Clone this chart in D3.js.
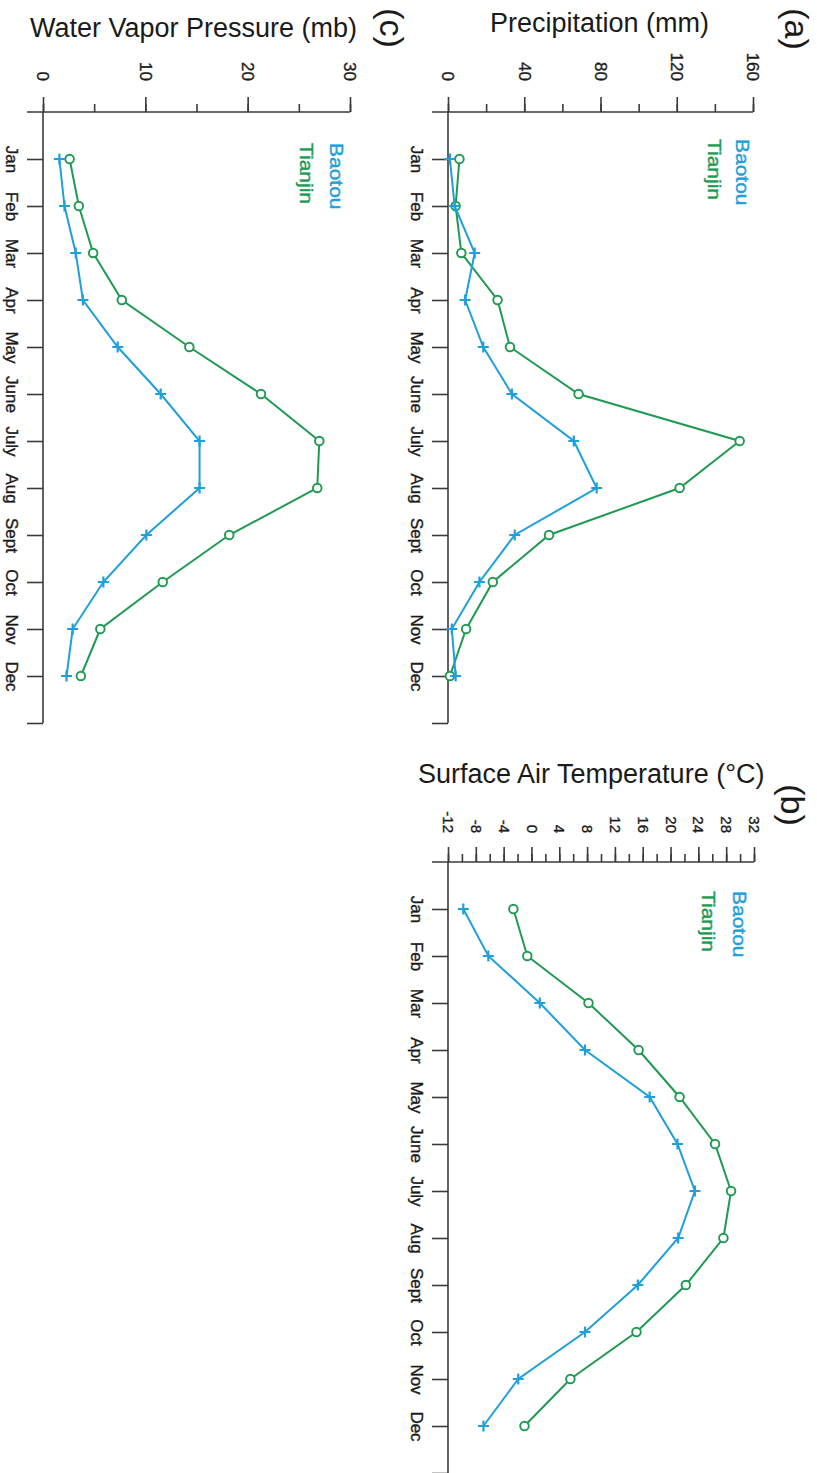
<!DOCTYPE html>
<html>
<head>
<meta charset="utf-8">
<script src="https://cdn.jsdelivr.net/npm/d3@7"></script>
<style>
  body { margin: 0; background: #fff; }
  svg { display: block; font-family: "Liberation Sans", Arial, sans-serif; }
</style>
</head>
<body>
<svg id="chart" width="817" height="1473"></svg>
<script>
// monthly climate data
var months = ["Jan", "Feb", "Mar", "Apr", "May", "June", "July", "Aug", "Sept", "Oct", "Nov", "Dec"];
var seriesNames = ["Baotou", "Tianjin"];

var precipBaotou = [1, 3.5, 14, 9, 18.5, 33.5, 66, 78, 35, 16.5, 2, 4];
var precipTianjin = [6, 4, 7, 26, 32.5, 68.5, 153, 121.5, 53, 23.5, 9.5, 1];

var tempBaotou = [-9.8, -6.2, 1.2, 7.7, 17, 21, 23.5, 21.1, 15.3, 7.7, -1.9, -6.9];
var tempTianjin = [-2.6, -0.6, 8.2, 15.4, 21.3, 26.4, 28.7, 27.6, 22.2, 15.1, 5.6, -1.0];

var vaporBaotou = [1.6, 2.1, 3.2, 3.9, 7.3, 11.5, 15.3, 15.3, 10.1, 5.9, 2.9, 2.3];
var vaporTianjin = [2.6, 3.5, 4.9, 7.7, 14.3, 21.3, 27.0, 26.8, 18.2, 11.7, 5.6, 3.7];

var blue = "#1f9fdb";
var green = "#1f9a52";
var axisCol = "#3a3a3a";
var textCol = "#1a1a1a";

// panel layout (the whole figure is turned 90 deg clockwise)
var panels = [
    {label: "(a)", title: "Precipitation (mm)", titleX: 490, titleY: 32, labelX: 795, labelY: 29,
     domain: [0, 160], range: [448, 753], axisY: 112, major: 40, minor: 20, tickFont: 17, tickGap: 31,
     legX: [742, 714], legY: 139, data: [precipBaotou, precipTianjin]},
    {label: "(c)", title: "Water Vapor Pressure (mb)", titleX: 30, titleY: 37, labelX: 390, labelY: 28,
     domain: [0, 30], range: [43, 350], axisY: 112, major: 10, minor: 5, tickFont: 17, tickGap: 31,
     legX: [336, 306], legY: 143, data: [vaporBaotou, vaporTianjin]},
    {label: "(b)", title: "Surface Air Temperature (\u00B0C)", titleX: 418, titleY: 783, labelX: 791, labelY: 805,
     domain: [-12, 32], range: [448, 754], axisY: 862, major: 4, minor: 2, tickFont: 15, tickGap: 29,
     legX: [739, 708], legY: 891, data: [tempBaotou, tempTianjin]}
];

var svg = d3.select("#chart");
var step = 47; // px between months

panels.forEach(function(p) {
    var g = svg.append("g");
    var x = d3.scaleLinear().domain(p.domain).range(p.range);
    var y = d3.scaleLinear().domain([0, 13]).range([p.axisY, p.axisY + 13 * step]);
    var x0 = p.range[0];

    // value axis (top) - minor then major ticks
    var minorTicks = d3.range(p.domain[0], p.domain[1] + 0.001, p.minor);
    var majorTicks = d3.range(p.domain[0], p.domain[1] + 0.001, p.major);

    var minorAx = g.append("g")
        .attr("transform", "translate(0," + p.axisY + ")")
        .call(d3.axisTop(x).tickValues(minorTicks).tickSize(8).tickFormat(""));
    minorAx.select(".domain").remove();

    var majorAx = g.append("g")
        .attr("transform", "translate(0," + p.axisY + ")")
        .call(d3.axisTop(x).tickValues(majorTicks).tickSize(15).tickFormat(function(d) { return String(d); }));
    majorAx.select(".domain").remove();
    majorAx.selectAll("text")
        .attr("y", null).attr("dy", "0.36em")
        .attr("transform", "translate(0," + (-p.tickGap) + ") rotate(90)")
        .attr("text-anchor", "end")
        .attr("font-size", p.tickFont)
        .attr("font-family", "Liberation Sans, Arial, sans-serif")
        .attr("fill", textCol)
        .attr("stroke", textCol).attr("stroke-width", 0.35);

    g.append("line")
        .attr("x1", x0 - 16).attr("x2", p.range[1])
        .attr("y1", p.axisY).attr("y2", p.axisY);

    // month axis (left side)
    var monthAx = g.append("g")
        .attr("transform", "translate(" + x0 + ",0)")
        .call(d3.axisLeft(y).tickValues(d3.range(1, 14)).tickSize(16)
            .tickFormat(function(d) { return d >= 1 && d <= 12 ? months[d - 1] : ""; }));
    monthAx.select(".domain").remove();
    monthAx.selectAll("text")
        .attr("x", null).attr("dy", "0.36em")
        .attr("transform", "translate(-31,0) rotate(90)")
        .attr("text-anchor", "middle")
        .attr("font-size", 17)
        .attr("font-family", "Liberation Sans, Arial, sans-serif")
        .attr("fill", textCol)
        .attr("stroke", textCol).attr("stroke-width", 0.35);

    g.append("line")
        .attr("x1", x0).attr("x2", x0)
        .attr("y1", y(0)).attr("y2", y(13));

    g.selectAll("line, .tick line")
        .attr("stroke", axisCol).attr("stroke-width", 1.6);

    // title, panel label
    g.append("text")
        .attr("x", p.titleX).attr("y", p.titleY)
        .attr("font-size", 27).attr("fill", textCol)
        .text(p.title);

    g.append("text")
        .attr("transform", "translate(" + p.labelX + "," + p.labelY + ") rotate(90)")
        .attr("text-anchor", "middle").attr("dy", "0.3em")
        .attr("font-size", 34).attr("fill", textCol)
        .text(p.label);

    // legend
    seriesNames.forEach(function(name, i) {
        var c = i === 0 ? blue : green;
        g.append("text")
            .attr("transform", "translate(" + p.legX[i] + "," + p.legY + ") rotate(90) scale(1,0.85)")
            .attr("dy", "0.36em")
            .attr("font-size", 21)
            .attr("fill", c)
            .attr("stroke", c).attr("stroke-width", 0.5)
            .text(name);
    });

    // series: draw Tianjin first, Baotou on top
    var line = d3.line()
        .x(function(d) { return x(d); })
        .y(function(d, i) { return y(i + 1); });

    [1, 0].forEach(function(s) {
        var col = s === 0 ? blue : green;
        var vals = p.data[s];
        g.append("path")
            .datum(vals)
            .attr("d", line)
            .attr("fill", "none")
            .attr("stroke", col)
            .attr("stroke-width", 2);

        if (s === 0) {
            g.selectAll(".plus" + s).data(vals).enter()
                .append("path")
                .attr("transform", function(d, i) { return "translate(" + x(d) + "," + y(i + 1) + ")"; })
                .attr("d", "M-5.5,0H5.5M0,-5.5V5.5")
                .attr("stroke", col).attr("stroke-width", 2.2);
        } else {
            g.selectAll(".circ" + s).data(vals).enter()
                .append("circle")
                .attr("cx", function(d) { return x(d); })
                .attr("cy", function(d, i) { return y(i + 1); })
                .attr("r", 4.3)
                .attr("fill", "#fff")
                .attr("stroke", col).attr("stroke-width", 1.9);
        }
    });
});
</script>
</body>
</html>
